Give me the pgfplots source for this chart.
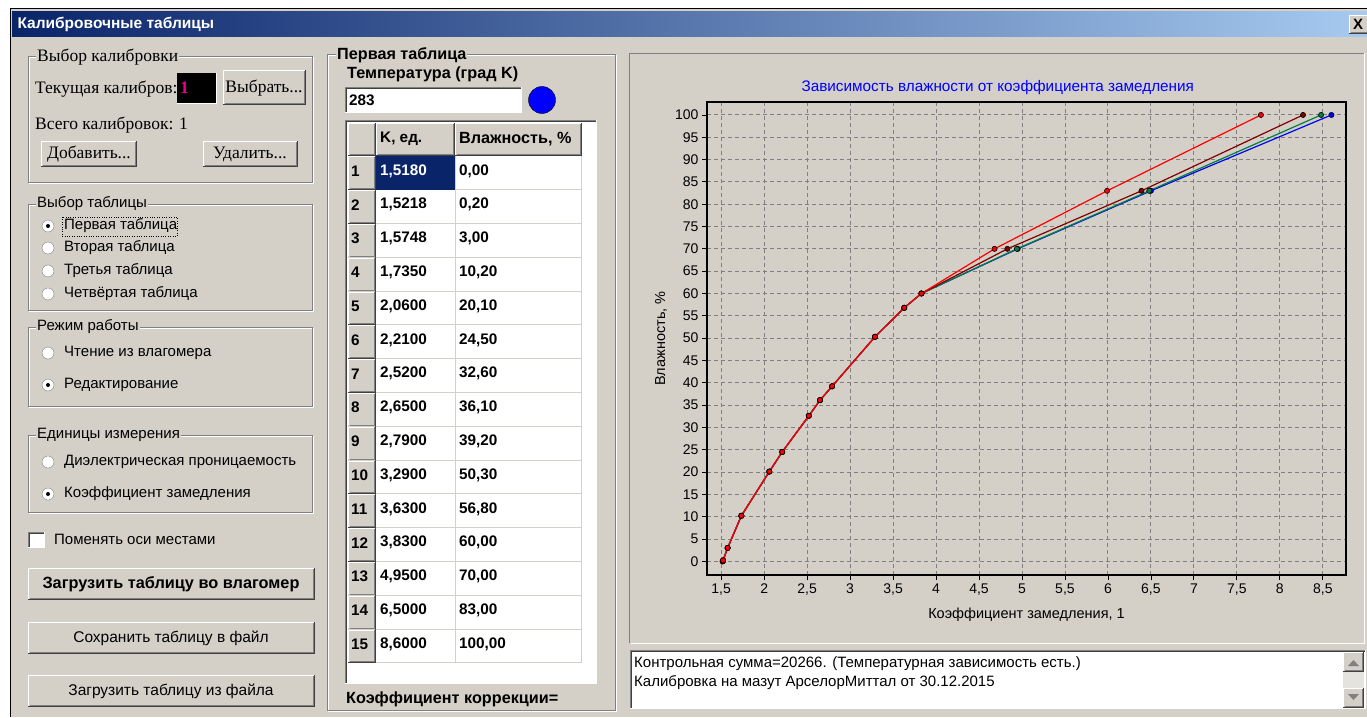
\documentclass[border=0pt]{standalone}
\usepackage{fontspec}
\usepackage{pgfplots}
\pgfplotsset{compat=1.18}
\setmainfont{Liberation Sans}
\newfontfamily\serifui{Liberation Serif}

\definecolor{win}{HTML}{D4D0C8}
\definecolor{shadow}{HTML}{808080}
\definecolor{dkshadow}{HTML}{404040}
\definecolor{navy}{HTML}{0A246A}
\definecolor{ttl}{HTML}{A6CAF0}
\definecolor{maroon}{HTML}{800000}
\definecolor{dgreen}{HTML}{008040}

\newcommand\ui{\fontsize{15}{17}\selectfont}
\newcommand\uibtn{\fontsize{15.5}{17}\selectfont}
\newcommand\uib{\fontsize{16.2}{18}\selectfont\bfseries}
\newcommand\cell{\fontsize{15.3}{17}\selectfont\bfseries}
\newcommand\srf{\serifui\fontsize{17.5}{19}\selectfont}

% raised button: x1 y1 x2 y2
\newcommand\raised[4]{%
  \fill[win] (#1,#2) rectangle (#3,#4);
  \draw[white] (#1+0.5,#4-1) -- (#1+0.5,#2+0.5) -- (#3-1,#2+0.5);
  \draw[dkshadow] (#1,#4-0.5) -- (#3-0.5,#4-0.5) -- (#3-0.5,#2);
  \draw[shadow] (#1+1.5,#4-1.5) -- (#3-1.5,#4-1.5) -- (#3-1.5,#2+1);
}
% sunken box
\newcommand\sunken[5]{%
  \fill[#5] (#1,#2) rectangle (#3,#4);
  \draw[shadow] (#1+0.5,#4) -- (#1+0.5,#2+0.5) -- (#3,#2+0.5);
  \draw[dkshadow] (#1+1.5,#4-1) -- (#1+1.5,#2+1.5) -- (#3-1,#2+1.5);
  \draw[white] (#1,#4-0.5) -- (#3-0.5,#4-0.5) -- (#3-0.5,#2);
}
% etched group frame
\newcommand\group[4]{%
  \draw[white] (#1+1,#2+1) rectangle (#3+1,#4+1);
  \draw[shadow] (#1,#2) rectangle (#3,#4);
}
\newcommand\radio[3]{%
  \draw[fill=white, draw=shadow] (#1,#2) circle (6);
  \ifnum#3=1 \fill (#1,#2) circle (2); \fi
}

\pgfplotstableread{
k w
1.518 0
1.5218 0.2
1.5748 3
1.735 10.2
2.06 20.1
2.21 24.5
2.52 32.6
2.65 36.1
2.79 39.2
3.29 50.3
3.63 56.8
3.83 60
4.95 70
6.5 83
8.6 100
}\tblue
\pgfplotstableread{
k w
1.518 0
1.5218 0.2
1.5748 3
1.735 10.2
2.06 20.1
2.21 24.5
2.52 32.6
2.65 36.1
2.79 39.2
3.29 50.3
3.63 56.8
3.83 60
4.94 70
6.48 83
8.48 100
}\tgreen
\pgfplotstableread{
k w
1.518 0
1.5218 0.2
1.5748 3
1.735 10.2
2.06 20.1
2.21 24.5
2.52 32.6
2.65 36.1
2.79 39.2
3.29 50.3
3.63 56.8
3.83 60
4.83 70
6.39 83
8.27 100
}\tmaroon
\pgfplotstableread{
k w
1.518 0
1.5218 0.2
1.5748 3
1.735 10.2
2.06 20.1
2.21 24.5
2.52 32.6
2.65 36.1
2.79 39.2
3.29 50.3
3.63 56.8
3.83 60
4.68 70
5.99 83
7.78 100
}\tred

\begin{document}
\begin{tikzpicture}
\begin{scope}[x=1pt,y=-1pt]
\path[use as bounding box, fill=white] (0,0) rectangle (1367,717);
% window
\fill[win] (10,8) rectangle (1367,717);
\draw[black] (10,8.5) -- (1367,8.5);
\draw[black] (10.5,8) -- (10.5,717);
\shade[left color=navy, right color=ttl] (12,12) rectangle (1367,37);
\node[anchor=west, text=white, font=\fontsize{15.5}{17}\selectfont\bfseries] at (14,24.5) {Калибровочные таблицы};
\raised{1349}{15}{1370}{34}
\node[font=\fontsize{15}{17}\selectfont\bfseries] at (1358,24.5) {X};

% ---- left column ----
\group{28}{56}{312}{182}
\node[fill=win, inner sep=1pt, anchor=west, font=\srf] at (36,57) {Выбор калибровки};
\node[anchor=west, font=\srf, inner sep=0pt] at (35,89) {Текущая калибров:};
\fill[black] (177,73) rectangle (217,103);
\draw[white] (216.5,73) -- (216.5,103.5) -- (177,103.5);
\node[anchor=west, text=magenta, font=\srf\bfseries, inner sep=0pt] at (180,88) {1};
\raised{223}{70}{306}{105}
\node[font=\srf] at (264,88) {Выбрать...};
\node[anchor=west, font=\srf, inner sep=0pt] at (35,125) {Всего калибровок: 1};
\raised{41}{141}{137}{167}
\node[font=\srf] at (89,154) {Добавить...};
\raised{203}{141}{298}{167}
\node[font=\srf] at (250,154) {Удалить...};

\group{28}{204}{312}{310}
\node[fill=win, inner sep=1pt, anchor=west, font=\ui] at (36,204) {Выбор таблицы};
\radio{48}{226}{1}
\draw[dotted] (62,217) rectangle (177,236);
\node[anchor=west, font=\ui, inner sep=0pt] at (64,226) {Первая таблица};
\radio{48}{248}{0}
\node[anchor=west, font=\ui, inner sep=0pt] at (64,248) {Вторая таблица};
\radio{48}{271}{0}
\node[anchor=west, font=\ui, inner sep=0pt] at (64,271) {Третья таблица};
\radio{48}{294}{0}
\node[anchor=west, font=\ui, inner sep=0pt] at (64,294) {Четвёртая таблица};

\group{28}{327}{312}{406}
\node[fill=win, inner sep=1pt, anchor=west, font=\ui] at (36,327) {Режим работы};
\radio{48}{353}{0}
\node[anchor=west, font=\ui, inner sep=0pt] at (64,353) {Чтение из влагомера};
\radio{48}{385}{1}
\node[anchor=west, font=\ui, inner sep=0pt] at (64,385) {Редактирование};

\group{28}{435}{312}{512}
\node[fill=win, inner sep=1pt, anchor=west, font=\ui] at (36,435) {Единицы измерения};
\radio{48}{462}{0}
\node[anchor=west, font=\ui, inner sep=0pt] at (64,462) {Диэлектрическая проницаемость};
\radio{48}{494}{1}
\node[anchor=west, font=\ui, inner sep=0pt] at (64,494) {Коэффициент замедления};

\sunken{28}{532}{45}{548}{white}
\node[anchor=west, font=\ui, inner sep=0pt] at (54,539) {Поменять оси местами};

\raised{28}{568}{315}{600}
\node[font=\fontsize{16.3}{18}\selectfont\bfseries] at (171,584) {Загрузить таблицу во влагомер};
\raised{28}{622}{315}{654}
\node[font=\uibtn] at (171,638) {Сохранить таблицу в файл};
\raised{28}{675}{315}{707}
\node[font=\uibtn] at (171,691) {Загрузить таблицу из файла};

% ---- middle column ----
\group{327}{54}{615}{710}
\node[fill=win, inner sep=1pt, anchor=west, font=\uib] at (336,55) {Первая таблица};
\node[anchor=west, font=\uib, inner sep=0pt] at (347,74) {Температура (град K)};
\sunken{345}{87}{522}{113}{white}
\node[anchor=west, font=\cell, inner sep=0pt] at (349,100) {283};
\draw[fill=blue, draw=black] (542,100) circle (13.5);

\sunken{345}{120}{597}{684}{white}
\raised{348}{123}{376}{156}
\raised{376}{123}{455}{156}
\raised{455}{123}{582}{156}
\node[anchor=west, font=\cell, inner sep=0pt] at (380,139) {K, ед.};
\node[anchor=west, font=\uib, inner sep=0pt] at (459,139) {Влажность, \%};
\foreach \i/\k/\w [evaluate=\i as \yt using 156+(\i-1)*33.8] in
  {1/{1,5180}/{0,00}, 2/{1,5218}/{0,20}, 3/{1,5748}/{3,00}, 4/{1,7350}/{10,20},
   5/{2,0600}/{20,10}, 6/{2,2100}/{24,50}, 7/{2,5200}/{32,60}, 8/{2,6500}/{36,10},
   9/{2,7900}/{39,20}, 10/{3,2900}/{50,30}, 11/{3,6300}/{56,80}, 12/{3,8300}/{60,00},
   13/{4,9500}/{70,00}, 14/{6,5000}/{83,00}, 15/{8,6000}/{100,00}}{
  \raised{348}{\yt}{376}{\yt+33.8}
  \draw[win] (376,\yt+33.3) -- (582,\yt+33.3);
  \draw[win] (455.5,\yt) -- (455.5,\yt+33.8);
  \draw[win] (581.5,\yt) -- (581.5,\yt+33.8);
  \node[anchor=west, font=\cell, inner sep=0pt] at (351,\yt+15) {\i};
  \node[anchor=west, font=\cell, inner sep=0pt] at (380,\yt+15) {\k};
  \node[anchor=west, font=\cell, inner sep=0pt] at (459,\yt+15) {\w};
}
\fill[navy] (376,156) rectangle (455,189.5);
\node[anchor=west, font=\cell, inner sep=0pt, text=white] at (380,171) {1,5180};
\draw[dkshadow] (375.5,156) -- (375.5,663);
\node[anchor=west, font=\uib, inner sep=0pt] at (346,699) {Коэффициент коррекции=};

% ---- right column ----
\draw[shadow] (629.5,643) -- (629.5,53.5) -- (1364,53.5);
\draw[white] (630.5,643) -- (1364.5,643) -- (1364.5,53.5);
\sunken{630}{650}{1366}{709}{white}
\node[anchor=west, font=\ui, inner sep=0pt] at (634,664) {Контрольная сумма=20266. (Температурная зависимость есть.)};
\node[anchor=west, font=\ui, inner sep=0pt] at (634,683) {Калибровка на мазут АрселорМиттал от 30.12.2015};
\fill[win!60!white] (1343,672) rectangle (1364,688);
\raised{1343}{652}{1364}{672}
\fill[shadow] (1348,666) -- (1359,666) -- (1353.5,660) -- cycle;
\raised{1343}{688}{1364}{708}
\fill[shadow] (1348,694) -- (1359,694) -- (1353.5,700) -- cycle;
\end{scope}

\begin{axis}[
  at={(707pt,-102pt)}, anchor=north west,
  scale only axis, width=639pt, height=473pt,
  xmin=1.335, xmax=8.77, ymin=-3.07, ymax=102.9,
  xtick={1.5,2,...,8.5}, ytick={0,5,...,100},
  grid=major,
  grid style={dash pattern=on 4pt off 3pt, shadow, line width=0.9pt},
  axis line style={black, line width=1.2pt},
  tick pos=left, tick align=outside, major tick length=5pt,
  tick style={black, line width=0.8pt},
  xticklabel style={/pgf/number format/.cd, use comma, fixed, assume math mode=true},
  yticklabel style={/pgf/number format/assume math mode=true},
  tick label style={font=\fontsize{14}{14}\selectfont},
  title={Зависимость влажности от коэффициента замедления},
  title style={at={(rel axis cs:0.455,1)}, anchor=center, yshift=8pt,
    text=blue, font=\fontsize{15.3}{17}\selectfont},
  xlabel={Коэффициент замедления, 1},
  xlabel style={at={(rel axis cs:0.5,0)}, anchor=center, yshift=-40pt, font=\fontsize{14.5}{16}\selectfont},
  ylabel={Влажность, \%},
  ylabel style={at={(rel axis cs:0,0.5)}, anchor=center, yshift=46pt, font=\fontsize{14.5}{16}\selectfont},
  every axis plot/.append style={line width=1.2pt, mark=*, mark size=2.6pt},
]
\addplot[blue, mark options={fill=blue, draw=black, line width=0.6pt}] table[x=k, y=w] {\tblue};
\addplot[dgreen, mark options={fill=dgreen, draw=black, line width=0.6pt}] table[x=k, y=w] {\tgreen};
\addplot[maroon, mark options={fill=maroon, draw=black, line width=0.6pt}] table[x=k, y=w] {\tmaroon};
\addplot[red, mark options={fill=red, draw=black, line width=0.6pt}] table[x=k, y=w] {\tred};
\draw[black, line width=2.2pt] (rel axis cs:0,1) -- (rel axis cs:0,0) -- (rel axis cs:1,0);
\end{axis}
\end{tikzpicture}
\end{document}
